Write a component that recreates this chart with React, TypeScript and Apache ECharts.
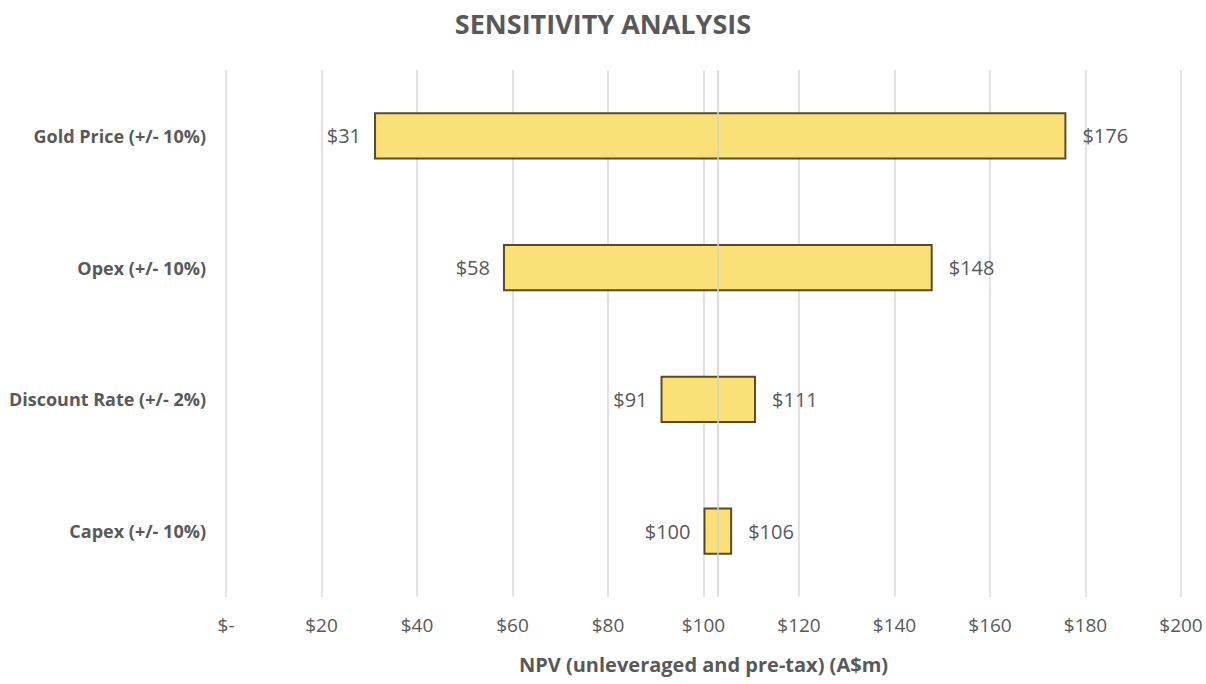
import React, { useEffect, useRef } from "react";
import * as echarts from "echarts";

const categories = [
  "Gold Price (+/- 10%)",
  "Opex (+/- 10%)",
  "Discount Rate (+/- 2%)",
  "Capex (+/- 10%)",
];
const lowValues = [31, 58, 91, 100];
const highValues = [176, 148, 111, 106];
const baseCase = 103;
const xTicks = [0, 20, 40, 60, 80, 100, 120, 140, 160, 180, 200];

const FONT = "'Open Sans', sans-serif";
const TXT = "#595959";

export default function App() {
  const ref = useRef<HTMLDivElement>(null);
  useEffect(() => {
    document.body.style.margin = "0";
    const chart = echarts.init(ref.current!, null, { renderer: "svg" });
    const spans = highValues.map((h, i) => h - lowValues[i]);
    chart.setOption({
      animation: false,
      backgroundColor: "#ffffff",
      textStyle: { fontFamily: FONT },
      title: {
        text: "SENSITIVITY ANALYSIS",
        left: "center",
        top: 5,
        textStyle: { fontFamily: FONT, fontSize: 27, fontWeight: "bold", color: TXT },
      },
      grid: { left: 226, right: 25, top: 70, bottom: 87, containLabel: false },
      xAxis: {
        type: "value",
        min: xTicks[0],
        max: xTicks[xTicks.length - 1],
        interval: 20,
        name: "NPV (unleveraged and pre-tax) (A$m)",
        nameLocation: "middle",
        nameGap: 57,
        nameTextStyle: { fontFamily: FONT, fontSize: 20, fontWeight: "bold", color: TXT },
        axisLine: { show: false },
        axisTick: { show: false },
        axisLabel: {
          margin: 18,
          fontFamily: FONT,
          fontSize: 19,
          color: TXT,
          formatter: (v: number) => (v === 0 ? "$-" : "$" + v),
        },
        splitLine: { show: true, lineStyle: { color: "#d9d9d9", width: 1.5 } },
      },
      yAxis: {
        type: "category",
        data: categories,
        inverse: true,
        axisLine: { show: false },
        axisTick: { show: false },
        axisLabel: { margin: 20, fontFamily: FONT, fontSize: 18, fontWeight: "bold", color: TXT },
      },
      series: [
        {
          type: "bar",
          stack: "t",
          data: lowValues,
          barWidth: "36%",
          itemStyle: { color: "rgba(0,0,0,0)" },
          label: {
            show: true,
            position: "insideRight",
            distance: 13,
            fontFamily: FONT,
            fontSize: 20,
            color: TXT,
            formatter: (p: any) => "$" + lowValues[p.dataIndex],
          },
          silent: true,
        },
        {
          type: "bar",
          stack: "t",
          data: spans,
          barWidth: "36%",
          itemStyle: { color: "#F9E178", borderColor: "#5a4a2a", borderWidth: 2 },
          label: {
            show: true,
            position: "right",
            distance: 16,
            fontFamily: FONT,
            fontSize: 20,
            color: TXT,
            formatter: (p: any) => "$" + highValues[p.dataIndex],
          },
          markLine: {
            silent: true,
            symbol: "none",
            label: { show: false },
            lineStyle: { color: "#d0d0d0", width: 1.5, type: "solid" },
            data: [{ xAxis: baseCase }],
            z: 10,
          },
        },
      ],
    });
    return () => chart.dispose();
  }, []);
  return <div ref={ref} style={{ width: 1206, height: 684 }} />;
}
